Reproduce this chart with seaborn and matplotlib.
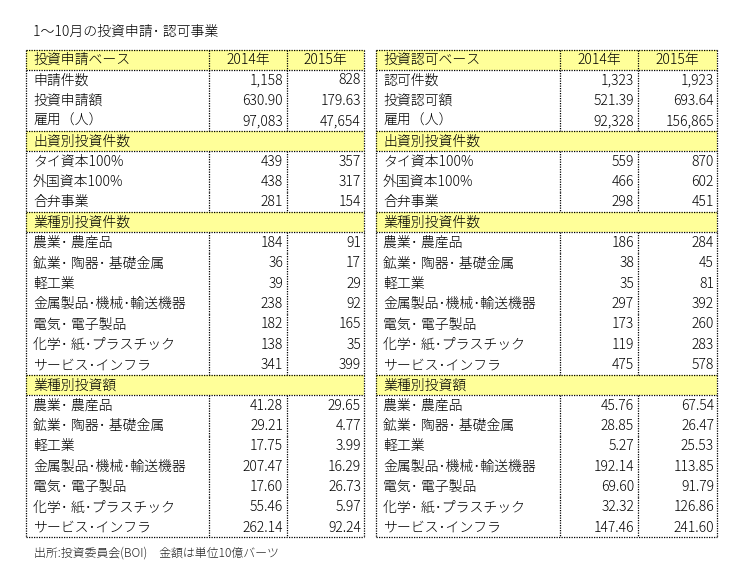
import matplotlib
matplotlib.use("Agg")
import matplotlib.pyplot as plt
import seaborn as sns
from matplotlib.patches import Rectangle

sns.set_theme(style="white")
plt.rcParams['font.family'] = ['Noto Sans CJK JP', 'DejaVu Sans']

# ---------------- data ----------------
title = "1〜10月の投資申請･ 認可事業"
footer = "出所:投資委員会(BOI)　金額は単位10億バーツ"
years = ["2014年", "2015年"]

apply_head = "投資申請ベース"
approve_head = "投資認可ベース"

apply_labels = ["申請件数", "投資申請額", "雇用（人）"]
apply_2014 = [1158, 630.90, 97083]
apply_2015 = [828, 179.63, 47654]

approve_labels = ["認可件数", "投資認可額", "雇用（人）"]
approve_2014 = [1323, 521.39, 92328]
approve_2015 = [1923, 693.64, 156865]

capital_title = "出資別投資件数"
capital_labels = ["タイ資本100%", "外国資本100%", "合弁事業"]
apply_cap_2014 = [439, 438, 281]
apply_cap_2015 = [357, 317, 154]
approve_cap_2014 = [559, 466, 298]
approve_cap_2015 = [870, 602, 451]

sector_count_title = "業種別投資件数"
sector_amount_title = "業種別投資額"
sectors = ["農業･ 農産品", "鉱業･ 陶器･ 基礎金属", "軽工業", "金属製品･機械･輸送機器",
           "電気･ 電子製品", "化学･ 紙･プラスチック", "サービス･インフラ"]
apply_sec_cnt_2014 = [184, 36, 39, 238, 182, 138, 341]
apply_sec_cnt_2015 = [91, 17, 29, 92, 165, 35, 399]
approve_sec_cnt_2014 = [186, 38, 35, 297, 173, 119, 475]
approve_sec_cnt_2015 = [284, 45, 81, 392, 260, 283, 578]
apply_sec_amt_2014 = [41.28, 29.21, 17.75, 207.47, 17.60, 55.46, 262.14]
apply_sec_amt_2015 = [29.65, 4.77, 3.99, 16.29, 26.73, 5.97, 92.24]
approve_sec_amt_2014 = [45.76, 28.85, 5.27, 192.14, 69.60, 32.32, 147.46]
approve_sec_amt_2015 = [67.54, 26.47, 25.53, 113.85, 91.79, 126.86, 241.60]

# ---------------- helpers ----------------
def fmt_int(v):
    return "{:,}".format(int(v))

def fmt_amt(v):
    return "{:.2f}".format(v)

def build_rows(head, labels, v14, v15, c14, c15, s14, s15, a14, a15):
    rows = [("head", head, years[0], years[1])]
    fmts = [fmt_int, fmt_amt, fmt_int]
    for lab, x, y, f in zip(labels, v14, v15, fmts):
        rows.append(("data", lab, f(x), f(y)))
    rows.append(("section", capital_title, "", ""))
    for lab, x, y in zip(capital_labels, c14, c15):
        rows.append(("data", lab, fmt_int(x), fmt_int(y)))
    rows.append(("section", sector_count_title, "", ""))
    for lab, x, y in zip(sectors, s14, s15):
        rows.append(("data", lab, fmt_int(x), fmt_int(y)))
    rows.append(("section", sector_amount_title, "", ""))
    for lab, x, y in zip(sectors, a14, a15):
        rows.append(("data", lab, fmt_amt(x), fmt_amt(y)))
    return rows

YELLOW = "#FFFF99"
FS = 10
TXT = dict(fontsize=FS, color="black", fontweight="light")
LS = dict(color="black", lw=0.9, linestyle=(0, (1, 1)))

def draw_table(ax, rows, x0, xa, xb, x1, top, h):
    n = len(rows)
    bottom = top + n * h
    for i, (kind, lab, a, b) in enumerate(rows):
        y0 = top + i * h
        yc = y0 + h / 2 + 0.5
        if kind in ("head", "section"):
            ax.add_patch(Rectangle((x0, y0), x1 - x0, h, facecolor=YELLOW,
                                   edgecolor="none", zorder=0))
            ax.plot([x0, x1], [y0, y0], **LS)
            ax.plot([x0, x1], [y0 + h, y0 + h], **LS)
        if kind != "section":
            ax.plot([xa, xa], [y0, y0 + h], **LS)
            ax.plot([xb, xb], [y0, y0 + h], **LS)
        ax.text(x0 + 7, yc, lab, ha="left", va="center", **TXT)
        if kind == "head":
            ax.text((xa + xb) / 2, yc, a, ha="center", va="center", **TXT)
            ax.text((xb + x1) / 2, yc, b, ha="center", va="center", **TXT)
        elif kind == "data":
            ax.text(xb - 4, yc, a, ha="right", va="center", **TXT)
            ax.text(x1 - 3, yc, b, ha="right", va="center", **TXT)
    ax.plot([x0, x0], [top, bottom], **LS)
    ax.plot([x1, x1], [top, bottom], **LS)
    ax.plot([x0, x1], [bottom, bottom], **LS)

# ---------------- figure ----------------
fig = plt.figure(figsize=(7.42, 5.84), dpi=100)
ax = fig.add_axes([0, 0, 1, 1])
ax.set_xlim(0, 742)
ax.set_ylim(584, 0)
ax.axis("off")

left_rows = build_rows(apply_head, apply_labels, apply_2014, apply_2015,
                       apply_cap_2014, apply_cap_2015,
                       apply_sec_cnt_2014, apply_sec_cnt_2015,
                       apply_sec_amt_2014, apply_sec_amt_2015)
right_rows = build_rows(approve_head, approve_labels, approve_2014, approve_2015,
                        approve_cap_2014, approve_cap_2015,
                        approve_sec_cnt_2014, approve_sec_cnt_2015,
                        approve_sec_amt_2014, approve_sec_amt_2015)

TOP, H = 49.5, 20.33
draw_table(ax, left_rows, 26, 209, 287, 364, TOP, H)
draw_table(ax, right_rows, 376, 560, 638, 717, TOP, H)

ax.text(33, 32, title, ha="left", va="center", **TXT)
ax.text(34, 553, footer, ha="left", va="center", fontsize=8.6, fontweight="light")

fig.savefig("out.png", dpi=100, facecolor="white")
